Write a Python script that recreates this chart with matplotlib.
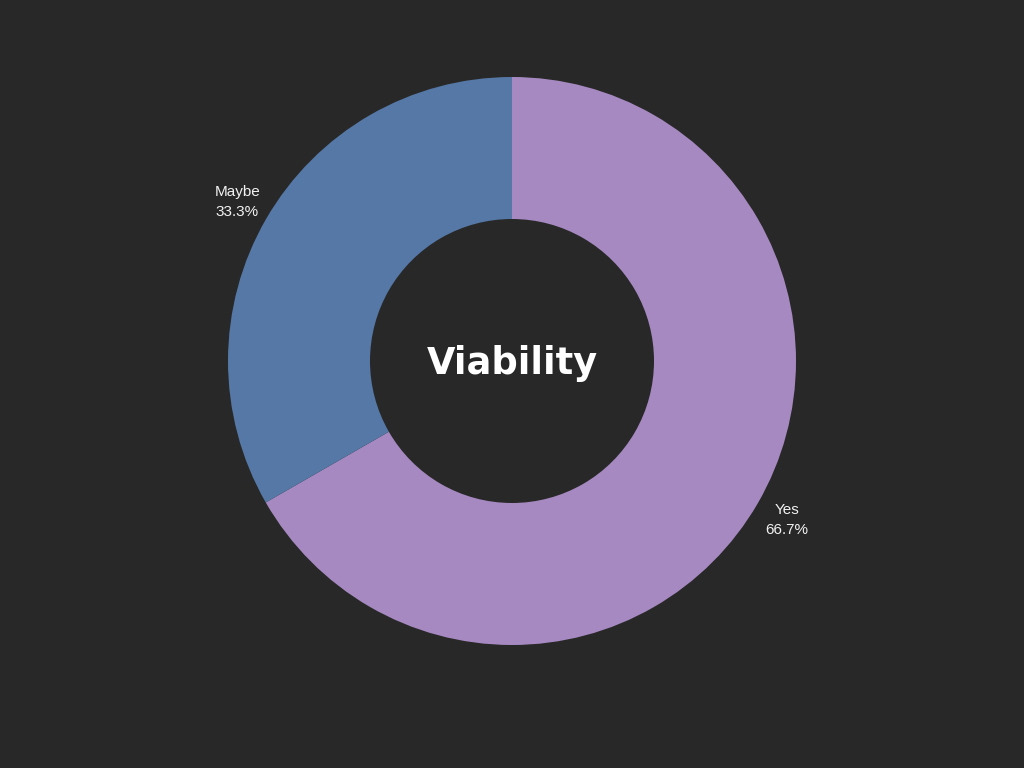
import matplotlib
matplotlib.use('Agg')
import matplotlib.pyplot as plt

labels = ['Yes', 'Maybe']
values = [66.7, 33.3]
colors = ['#a689c1', '#5578a6']
title = 'Viability'

bg = '#282828'

fig = plt.figure(figsize=(10.24, 7.68), dpi=100, facecolor=bg)
ax = fig.add_axes([228 / 1024, 123 / 768, 568 / 1024, 568 / 768])
ax.set_facecolor(bg)

texts = [f'{l}\n{v:.1f}%' for l, v in zip(labels, values)]
wedges, lbls = ax.pie(values, labels=texts, colors=colors, startangle=90,
                      counterclock=False, radius=1.0, labeldistance=1.118,
                      wedgeprops=dict(width=0.5, edgecolor='none'),
                      textprops=dict(color='#f2f2f2', fontsize=11, ha='center',
                                     va='center', linespacing=1.58,
                                     family=['Liberation Sans', 'DejaVu Sans']))
ax.set_xlim(-1, 1)
ax.set_ylim(-1, 1)
ax.set_aspect('equal')
ax.axis('off')

# centre title, Montserrat is not here so a wide bold face stands in
ax.text(0, -0.01, title, ha='center', va='center', color='white',
        fontsize=26.5, fontweight='bold', family='DejaVu Sans')

fig.savefig('out.png', dpi=100, facecolor=bg)
